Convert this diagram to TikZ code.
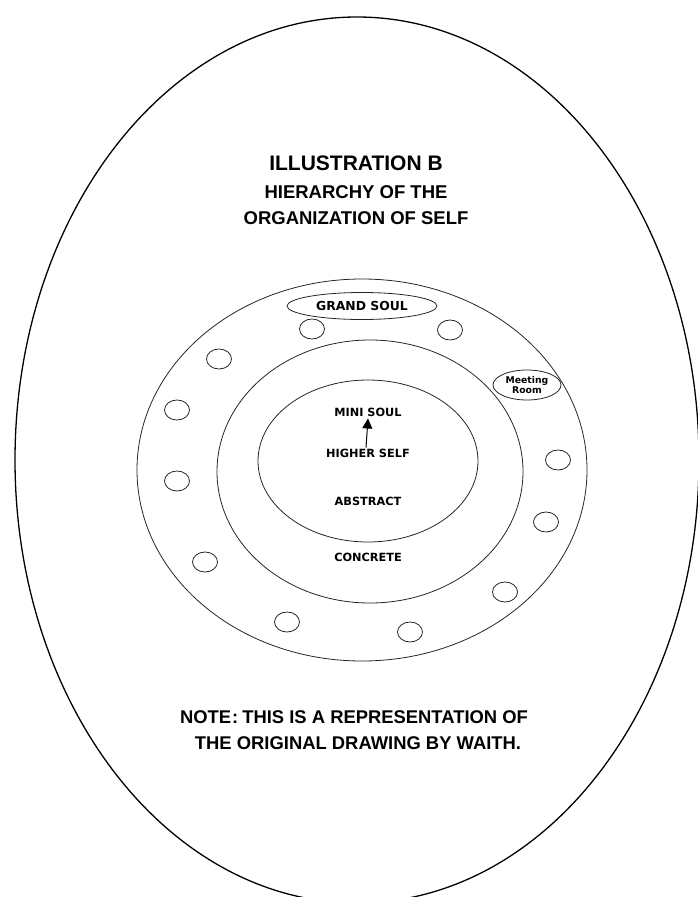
\documentclass[tikz,border=0pt]{standalone}
\usepackage{fontspec}
\setmainfont{Liberation Sans}
\newfontfamily\dejavu{DejaVu Sans}
\usetikzlibrary{arrows.meta,shapes.geometric}
\tikzset{
  outerline/.style={line width=1.3pt, draw=black},
  ring/.style={line width=0.8pt, draw=black!85},
  pod/.style={ellipse, draw=black!85, line width=0.8pt, minimum width=25pt, minimum height=20pt, inner sep=0pt},
  titletext/.style={font=\bfseries\fontsize{21}{25}\selectfont, inner sep=0pt},
  subtext/.style={font=\bfseries\fontsize{18.5}{22}\selectfont, inner sep=0pt},
  notetext/.style={font=\bfseries\fontsize{18.4}{22}\selectfont, inner sep=0pt},
  lab/.style={font=\dejavu\bfseries\fontsize{11.3}{13}\selectfont, inner sep=1pt},
  roomtext/.style={font=\dejavu\bfseries\fontsize{9.3}{10}\selectfont, align=center, inner sep=0pt}
}
\begin{document}
\begin{tikzpicture}[x=1pt,y=-1pt]
\useasboundingbox (0,0) rectangle (697,897);
% big outer ellipse
\draw[outerline] (357,460) ellipse [x radius=342pt, y radius=443pt];
% title
\node[titletext] (t1) at (356,163) {ILLUSTRATION B};
\node[subtext] (t2) at (356,192) {HIERARCHY OF THE};
\node[subtext] (t3) at (356,218) {ORGANIZATION OF SELF};
% rings
\draw[ring] (362,470) ellipse [x radius=225pt, y radius=191pt];
\draw[ring] (370,471.5) ellipse [x radius=153pt, y radius=131.5pt];
\draw[ring] (368,461) ellipse [x radius=110pt, y radius=81pt];
% grand soul and meeting room
\node[ellipse, draw=black!85, line width=0.8pt, minimum width=150pt, minimum height=27pt, inner sep=0pt, font=\dejavu\bfseries\fontsize{12.4}{14}\selectfont] (gs) at (362,306) {GRAND SOUL};
\node[ellipse, draw=black!85, line width=0.8pt, minimum width=68pt, minimum height=30pt, inner sep=0pt, roomtext] (mr) at (527,385) {Meeting\\Room};
% small circles
\node[pod] (c1) at (312,329) {};
\node[pod] (c2) at (450,330) {};
\node[pod] (c3) at (219,359) {};
\node[pod] (c4) at (177,410) {};
\node[pod] (c5) at (177,481) {};
\node[pod] (c6) at (205,562) {};
\node[pod] (c7) at (287,622) {};
\node[pod] (c8) at (410,632) {};
\node[pod] (c9) at (505,592) {};
\node[pod] (c10) at (546,522) {};
\node[pod] (c11) at (558,460) {};
% inner labels
\node[lab] (ms) at (368,412) {MINI SOUL};
\node[lab] (hs) at (368,453) {HIGHER SELF};
\node[lab] (ab) at (368,501) {ABSTRACT};
\node[lab] (co) at (368,557) {CONCRETE};
\draw[line width=1pt, -{Triangle[width=10pt,length=10pt]}] ([xshift=-2pt]hs.north) -- ([yshift=-1pt]ms.south);
% note
\node[notetext] (n1) at (354,717) {NOTE\kern1pt:\kern4pt THIS IS A REPRESENTATION OF};
\node[notetext] (n2) at (358,743) {THE ORIGINAL DRAWING BY WAITH.};
\end{tikzpicture}
\end{document}
